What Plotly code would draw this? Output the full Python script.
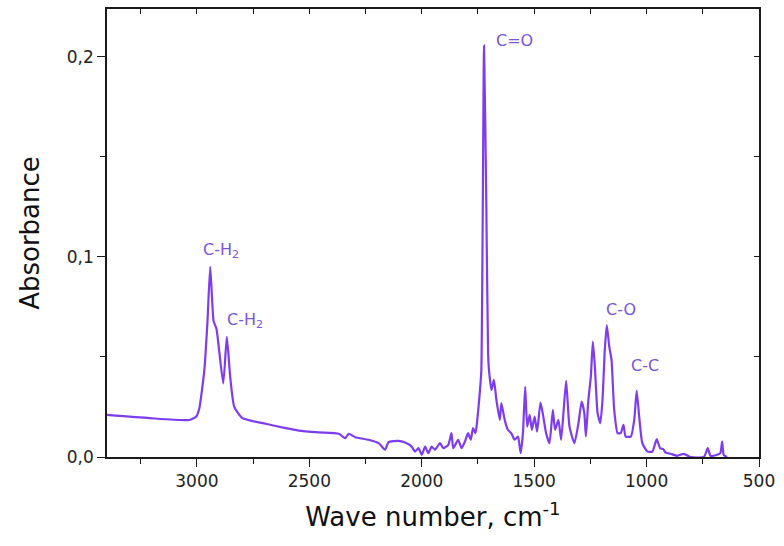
import plotly.graph_objects as go

# FTIR absorbance spectrum (wave number in cm^-1, absorbance)
wavenumber = [
    3400, 3211, 3034, 3003, 2989, 2967, 2953, 2941, 2926, 2913, 2883, 2867,
    2852, 2834, 2798, 2694, 2605, 2547, 2458, 2369, 2340, 2325, 2296, 2237,
    2192, 2163, 2148, 2104, 2074, 2045, 2030, 2015, 2000, 1985, 1971, 1956,
    1941, 1919, 1904, 1882, 1868, 1860, 1838, 1823, 1808, 1794, 1782, 1772,
    1761, 1753, 1742, 1735, 1723, 1713, 1705, 1701, 1690, 1679, 1668, 1653,
    1646, 1631, 1617, 1602, 1587, 1572, 1560, 1550, 1540, 1531, 1520, 1510,
    1498, 1487, 1472, 1462, 1447, 1432, 1417, 1407, 1392, 1380, 1358, 1343,
    1321, 1303, 1289, 1277, 1270, 1259, 1248, 1239, 1230, 1218, 1206, 1196,
    1186, 1177, 1166, 1156, 1144, 1129, 1115, 1103, 1093, 1070, 1055, 1044,
    1033, 1019, 996, 974, 955, 940, 926, 915, 893, 864, 834, 805, 745, 728,
    716, 686, 672, 664, 657, 642,
]
absorbance = [
    0.0210, 0.0194, 0.0185, 0.0202, 0.0245, 0.0435, 0.0680, 0.0950, 0.0680,
    0.0640, 0.0368, 0.0600, 0.0400, 0.0250, 0.0194, 0.0166, 0.0144, 0.0132,
    0.0123, 0.0116, 0.0094, 0.0116, 0.0099, 0.0086, 0.0069, 0.0036, 0.0074,
    0.0081, 0.0072, 0.0052, 0.0027, 0.0044, 0.0011, 0.0052, 0.0019, 0.0052,
    0.0036, 0.0069, 0.0044, 0.0061, 0.0119, 0.0044, 0.0086, 0.0044, 0.0077,
    0.0119, 0.0086, 0.0144, 0.0119, 0.0185, 0.0320, 0.0435, 0.2055, 0.1270,
    0.0520, 0.0435, 0.0335, 0.0385, 0.0285, 0.0185, 0.0269, 0.0185, 0.0136,
    0.0119, 0.0086, 0.0102, 0.0019, 0.0119, 0.0350, 0.0152, 0.0210, 0.0136,
    0.0202, 0.0127, 0.0272, 0.0219, 0.0119, 0.0069, 0.0235, 0.0136, 0.0185,
    0.0086, 0.0381, 0.0152, 0.0069, 0.0169, 0.0277, 0.0219, 0.0102, 0.0285,
    0.0401, 0.0576, 0.0451, 0.0219, 0.0169, 0.0285, 0.0534, 0.0659, 0.0551,
    0.0485, 0.0235, 0.0119, 0.0119, 0.0160, 0.0102, 0.0102, 0.0185, 0.0331,
    0.0202, 0.0069, 0.0027, 0.0027, 0.0089, 0.0044, 0.0039, 0.0022, 0.0016,
    0.0006, 0.0016, 0.0000, 0.0000, 0.0044, 0.0006, 0.0011, 0.0019, 0.0077,
    0.0011, 0.0000,
]

# Band assignments: label, left edge wave number, absorbance level
band_labels = ["C-H<sub>2</sub>", "C-H<sub>2</sub>", "C=O", "C-O", "C-C"]
band_x = [2982, 2874, 1679, 1188, 1078]
band_y = [0.1033, 0.0684, 0.2080, 0.0739, 0.0455]

x_ticks = [3000, 2500, 2000, 1500, 1000, 500]
y_ticks = [0.0, 0.1, 0.2]
y_ticktext = ["0,0", "0,1", "0,2"]

x_range = [3400, 500]
y_range = [0.0, 0.2238]

FONT = "DejaVu Sans"
LINE_COLOR = "#7d3cf0"
LABEL_COLOR = "#7a55d8"
AXIS_COLOR = "#1a1a1a"

fig = go.Figure()
fig.add_trace(go.Scatter(
    x=wavenumber, y=absorbance, mode="lines",
    line=dict(color=LINE_COLOR, width=2.2, shape="spline", smoothing=0.5),
    showlegend=False, hoverinfo="x+y",
))

for text, bx, by in zip(band_labels, band_x, band_y):
    fig.add_annotation(
        x=bx, y=by, xref="x", yref="y", text=text, showarrow=False,
        xanchor="left", yanchor="middle",
        font=dict(family=FONT, size=16, color=LABEL_COLOR),
    )

fig.update_layout(
    width=784, height=546,
    margin=dict(l=107, r=21, t=9, b=89),
    paper_bgcolor="white", plot_bgcolor="white",
    font=dict(family=FONT, color=AXIS_COLOR),
    xaxis=dict(
        range=x_range, tickvals=x_ticks, ticks="outside", ticklen=8,
        tickwidth=1.3, tickcolor=AXIS_COLOR,
        minor=dict(dtick=250, tick0=500, ticks="outside", ticklen=5,
                   tickwidth=1.3, tickcolor=AXIS_COLOR, showgrid=False),
        showline=True, linecolor=AXIS_COLOR, linewidth=1.5,
        showgrid=False, zeroline=False,
        tickfont=dict(family=FONT, size=17, color="#222"),
        title=dict(text="Wave number, cm<sup>-1</sup>",
                   font=dict(family=FONT, size=26, color="#111"), standoff=18),
    ),
    yaxis=dict(
        range=y_range, tickvals=y_ticks, ticktext=y_ticktext,
        ticks="outside", ticklen=8, tickwidth=1.3, tickcolor=AXIS_COLOR,
        minor=dict(dtick=0.05, tick0=0, ticks="outside", ticklen=5,
                   tickwidth=1.3, tickcolor=AXIS_COLOR, showgrid=False),
        showline=True, linecolor=AXIS_COLOR, linewidth=1.5,
        showgrid=False, zeroline=False,
        tickfont=dict(family=FONT, size=17, color="#222"),
        title=dict(text="Absorbance",
                   font=dict(family=FONT, size=26, color="#111"), standoff=20),
    ),
    # frame on top and right, with inward ticks
    xaxis2=dict(
        overlaying="x", side="top", range=x_range, tick0=500, dtick=250,
        ticks="inside", ticklen=5, tickwidth=1.3, tickcolor=AXIS_COLOR,
        showticklabels=False, showline=True, linecolor=AXIS_COLOR,
        linewidth=1.5, showgrid=False, zeroline=False,
    ),
    yaxis2=dict(
        overlaying="y", side="right", range=y_range, tick0=0, dtick=0.05,
        ticks="inside", ticklen=5, tickwidth=1.3, tickcolor=AXIS_COLOR,
        showticklabels=False, showline=True, linecolor=AXIS_COLOR,
        linewidth=1.5, showgrid=False, zeroline=False,
    ),
)

# invisible trace so the frame axes are laid out
fig.add_trace(go.Scatter(
    x=[x_range[0]], y=[y_range[0]], xaxis="x2", yaxis="y2",
    mode="markers", marker=dict(opacity=0), showlegend=False, hoverinfo="skip",
))

fig.write_html("out.html")
